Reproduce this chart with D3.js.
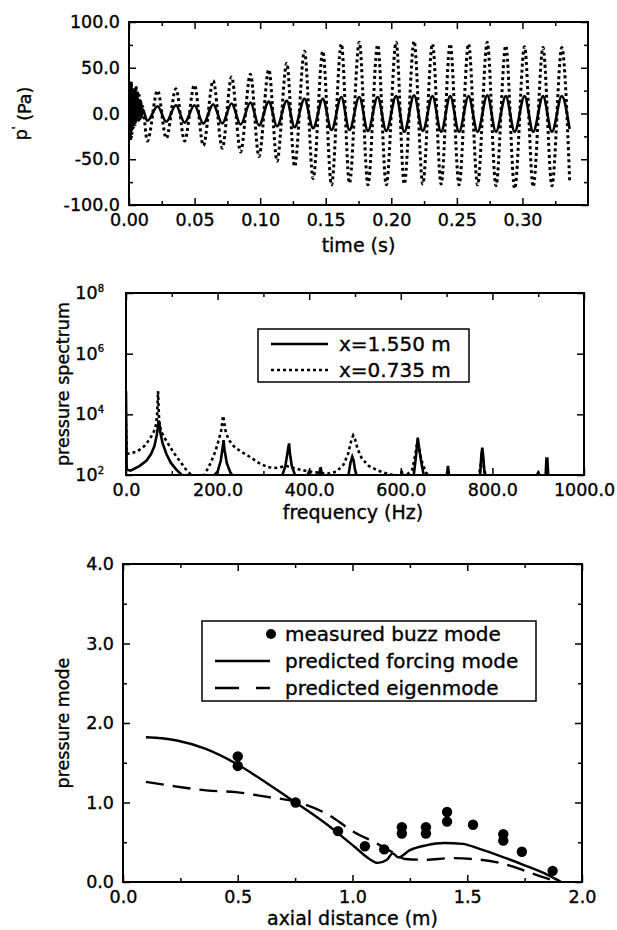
<!DOCTYPE html>
<html>
<head>
<meta charset="utf-8">
<script src="https://cdn.jsdelivr.net/npm/d3@7"></script>
<style>
  body { margin: 0; background: #fff; }
  svg { display: block; font-family: "DejaVu Sans", "Liberation Sans", Arial, sans-serif; }
  svg text { fill: #000; stroke: #000; stroke-width: 0.35px; }
</style>
</head>
<body>
<svg id="chart" width="617" height="930"></svg>
<script>
// ---- panel 1: pressure time traces (burst + oscillation extrema)
const timeBurst = [0, 0.0006, 0.0012, 0.0018, 0.0024, 0.003, 0.0036, 0.0042, 0.0048, 0.0054, 0.006, 0.0066, 0.0072, 0.0078, 0.0084, 0.009, 0.0096, 0.0102];
const dottedBurst = [0, 33, -30, 35, -22, 28, -15, 26, -12, 30, -8, 24, -10, 20, -6, 15, -4, 8];
const solidBurst = [0, 25, -26, 30, -18, 24, -12, 27, -10, 22, -6, 18, -8, 14, -4, 10, -3, 5];

const timeExt = [0.014, 0.0218, 0.0284, 0.0358, 0.0424, 0.0499, 0.0567, 0.0642, 0.0711, 0.0782,
  0.0851, 0.0926, 0.0991, 0.1066, 0.1129, 0.1203, 0.1263, 0.1338, 0.1404, 0.1478,
  0.1544, 0.1619, 0.1681, 0.1756, 0.1822, 0.1896, 0.1962, 0.2037, 0.2099, 0.2174,
  0.224, 0.2314, 0.238, 0.2449, 0.2517, 0.2589, 0.2658, 0.2732, 0.2798, 0.2873,
  0.2941, 0.3016, 0.3082, 0.3157, 0.3225, 0.33, 0.336];
const dottedExt = [-30, 25, -27, 27, -30, 31, -35, 36, -38, 40,
  -42, 43, -47, 48, -52, 55, -58, 68, -71, 68,
  -78, 76, -76, 78, -78, 75, -78, 78, -77, 79,
  -77, 76, -77, 76, -78, 76, -78, 78, -79, 74,
  -82, 73, -80, 72, -79, 72, -73];
const solidExt = [-8, 8, -9, 9, -10, 9, -11, 10, -11, 11,
  -12, 12, -13, 13, -14, 14, -15, 16, -16, 16,
  -18, 18, -18, 18, -19, 18, -19, 19, -20, 20,
  -19, 19, -20, 19, -20, 19, -20, 20, -20, 19,
  -20, 19, -20, 19, -20, 19, -17];

const timeTicks = [0, 0.05, 0.1, 0.15, 0.2, 0.25, 0.3];
const pTicks = [-100, -50, 0, 50, 100];

// ---- panel 2: pressure spectra
const specFreqSolid = [0, 1.5, 10, 30, 45, 55, 62, 67, 70, 71, 72, 73, 75, 80, 88, 98, 110, 125,
  190, 200, 207, 211, 213, 215, 220, 228, 235,
  340, 348, 353, 356, 358, 362, 370, 395, 400, 403, 420, 425, 428, 430,
  485, 490, 494, 497, 500, 505, 600, 602, 604, 628, 633, 637, 641, 645, 650, 655,
  700, 703, 706, 773, 776, 778, 780, 783, 785, 895, 900, 905, 916, 918, 920, 922, 1000];
const specSolid = [60000, 150, 140, 200, 300, 500, 900, 2000, 4000, 6300, 3500, 5000, 2500, 1100, 500, 250, 150, 90,
  90, 130, 300, 800, 1400, 700, 250, 120, 85,
  85, 200, 600, 1100, 500, 200, 90, 90, 130, 90, 90, 180, 100, 85,
  85, 250, 400, 300, 150, 85, 85, 140, 85, 90, 400, 1700, 600, 250, 100, 85,
  85, 200, 85, 90, 500, 800, 400, 100, 85, 85, 120, 85, 85, 350, 350, 85, 85];

const specFreqDotted = [0, 2, 10, 25, 40, 50, 58, 63, 66, 68, 70, 71, 72, 74, 78, 85, 95, 105, 118, 130, 142, 150,
  168, 175, 185, 195, 203, 208, 212, 214, 218, 225, 235, 250, 270, 290, 310, 330, 350, 360, 380, 400, 420, 440,
  460, 475, 485, 492, 496, 500, 506, 515, 530, 550, 570, 590, 610, 625, 632, 636, 640, 645, 655, 665,
  770, 776, 778, 781, 786, 1000];
const specDotted = [5000, 500, 520, 600, 900, 1400, 2200, 3200, 5000, 10000, 58000, 20000, 8000, 4000, 2500, 1600, 900, 520, 280, 160, 100, 80,
  80, 130, 250, 600, 1500, 3000, 9000, 6000, 2500, 1400, 900, 600, 400, 250, 180, 170, 200, 180, 150, 130, 120, 110,
  130, 220, 500, 1400, 2000, 1500, 700, 350, 200, 140, 110, 95, 90, 150, 500, 1200, 800, 300, 120, 85,
  85, 300, 500, 200, 85, 85];

const freqTicks = [0, 200, 400, 600, 800, 1000];
const specTicks = [1e2, 1e4, 1e6, 1e8];
const specLegend = ["x=1.550 m", "x=0.735 m"];

// ---- panel 3: pressure mode shapes
const measX = [0.5, 0.5, 0.752, 0.937, 1.054, 1.138, 1.215, 1.215, 1.32, 1.32, 1.412, 1.412, 1.525, 1.657, 1.657, 1.738, 1.872];
const measY = [1.58, 1.46, 1.0, 0.64, 0.45, 0.41, 0.69, 0.61, 0.69, 0.61, 0.88, 0.76, 0.72, 0.60, 0.52, 0.38, 0.14];
const forceX = [0.1, 0.235, 0.355, 0.492, 0.629, 0.752, 0.886, 1.006, 1.074, 1.11, 1.15, 1.175, 1.2, 1.25, 1.32, 1.4, 1.48, 1.55, 1.65, 1.75, 1.85, 1.91];
const forceY = [1.82, 1.78, 1.68, 1.49, 1.24, 1.0, 0.73, 0.45, 0.29, 0.24, 0.28, 0.36, 0.31, 0.40, 0.46, 0.49, 0.48, 0.42, 0.32, 0.21, 0.09, 0.0];
const eigenX = [0.1, 0.235, 0.372, 0.492, 0.629, 0.752, 0.886, 1.006, 1.109, 1.177, 1.229, 1.314, 1.434, 1.52, 1.657, 1.743, 1.83, 1.9];
const eigenY = [1.26, 1.20, 1.15, 1.13, 1.07, 1.01, 0.86, 0.63, 0.48, 0.37, 0.29, 0.28, 0.30, 0.29, 0.23, 0.15, 0.06, 0.0];
const axialTicks = [0, 0.5, 1.0, 1.5, 2.0];
const modeTicks = [0, 1, 2, 3, 4];
const modeLegend = ["measured buzz mode", "predicted forcing mode", "predicted eigenmode"];

const svg = d3.select("#chart");
const TICK_FONT = 17.5;
const TITLE_FONT = 19;
const YTITLE_FONT = 17.5;
const LEGEND_FONT = 20;
const fmt = n => v => v.toFixed(n);

function panel(id, left, top, w, h) {
  const g = svg.append("g").attr("transform", `translate(${left},${top})`);
  g.append("clipPath").attr("id", id).append("rect").attr("width", w).attr("height", h);
  return g;
}

function axes(g, w, h, x, y, o) {
  const style = s => {
    s.attr("font-size", TICK_FONT).attr("font-family", null);
    s.select(".domain").remove();
    s.selectAll(".tick line").attr("stroke-width", 1.5);
  };
  g.append("g").attr("transform", `translate(0,${h})`)
    .call(d3.axisBottom(x).tickValues(o.xMajor).tickSize(-7).tickPadding(9).tickFormat(o.xFmt)).call(style);
  g.append("g").attr("transform", `translate(0,${h})`)
    .call(d3.axisBottom(x).tickValues(o.xMinor).tickSize(-4).tickFormat("")).call(style);
  g.append("g").call(d3.axisTop(x).tickValues(o.xMajor).tickSize(-7).tickFormat("")).call(style);
  g.append("g").call(d3.axisTop(x).tickValues(o.xMinor).tickSize(-4).tickFormat("")).call(style);
  const yl = g.append("g")
    .call(d3.axisLeft(y).tickValues(o.yMajor).tickSize(-7).tickPadding(o.yPad || 9).tickFormat(o.yFmt)).call(style);
  if (o.yMinor) {
    g.append("g").call(d3.axisLeft(y).tickValues(o.yMinor).tickSize(-4).tickFormat("")).call(style);
    g.append("g").attr("transform", `translate(${w},0)`)
      .call(d3.axisRight(y).tickValues(o.yMinor).tickSize(-4).tickFormat("")).call(style);
  }
  g.append("g").attr("transform", `translate(${w},0)`)
    .call(d3.axisRight(y).tickValues(o.yMajor).tickSize(-7).tickFormat("")).call(style);
  g.append("rect").attr("width", w).attr("height", h)
    .attr("fill", "none").attr("stroke", "#000").attr("stroke-width", 2);
  return yl;
}

// ================= panel 1
{
  const w = 459, h = 183;
  const g = panel("clip1", 129, 22, w, h);
  const x = d3.scaleLinear().domain([0, 0.35]).range([0, w]);
  const y = d3.scaleLinear().domain([-100, 100]).range([h, 0]);
  axes(g, w, h, x, y, {
    xMajor: timeTicks, xMinor: d3.range(0.025, 0.35, 0.05), xFmt: fmt(2),
    yMajor: pTicks, yMinor: [-75, -25, 25, 75], yFmt: fmt(1)
  });
  const t = timeBurst.concat(timeExt);
  const dotted = dottedBurst.concat(dottedExt);
  const solid = solidBurst.concat(solidExt);
  const line = vals => d3.line().x((d, i) => x(t[i])).y(d => y(d)).curve(d3.curveMonotoneX)(vals);
  const data = g.append("g").attr("clip-path", "url(#clip1)");
  data.append("path").attr("d", line(dotted)).attr("fill", "none").attr("stroke", "#000")
    .attr("stroke-width", 3).attr("stroke-dasharray", "3,3");
  data.append("path").attr("d", line(solid)).attr("fill", "none").attr("stroke", "#000")
    .attr("stroke-width", 2.6);

  g.append("text").attr("x", w / 2).attr("y", h + 47).attr("text-anchor", "middle")
    .attr("font-size", TITLE_FONT).text("time (s)");
  const yt = g.append("text").attr("transform", `translate(${21 - 129},${h / 2}) rotate(-90)`)
    .attr("text-anchor", "middle").attr("dominant-baseline", "central").attr("font-size", YTITLE_FONT);
  yt.append("tspan").text("p");
  yt.append("tspan").attr("dy", "-0.55em").attr("font-size", 10).text("'");
  yt.append("tspan").attr("dy", "0.55em").text(" (Pa)");
}

// ================= panel 2
{
  const w = 458, h = 182;
  const g = panel("clip2", 126, 293, w, h);
  const x = d3.scaleLinear().domain([0, 1000]).range([0, w]);
  const y = d3.scaleLog().domain([1e2, 1e8]).range([h, 0]);
  const yl = axes(g, w, h, x, y, {
    xMajor: freqTicks, xMinor: [100, 300, 500, 700, 900], xFmt: fmt(1),
    yMajor: specTicks, yFmt: () => "10", yPad: 22
  });
  yl.selectAll(".tick text").append("tspan").attr("dy", "-0.75em").attr("font-size", 10)
    .text(d => Math.round(Math.log10(d)));

  const data = g.append("g").attr("clip-path", "url(#clip2)");
  const line = (fx, fy) => d3.line().x((d, i) => x(fx[i])).y(d => y(d))(fy);
  data.append("path").attr("d", line(specFreqDotted, specDotted)).attr("fill", "none")
    .attr("stroke", "#000").attr("stroke-width", 2.6).attr("stroke-dasharray", "3,3");
  data.append("path").attr("d", line(specFreqSolid, specSolid)).attr("fill", "none")
    .attr("stroke", "#000").attr("stroke-width", 2.6);

  // legend
  const lg = g.append("g").attr("transform", `translate(${258 - 126},${329 - 293})`);
  lg.append("rect").attr("width", 211).attr("height", 53).attr("fill", "#fff")
    .attr("stroke", "#000").attr("stroke-width", 1.5);
  specLegend.forEach((name, i) => {
    const cy = 15 + i * 26;
    lg.append("line").attr("x1", 13).attr("x2", 70).attr("y1", cy).attr("y2", cy)
      .attr("stroke", "#000").attr("stroke-width", 2.6)
      .attr("stroke-dasharray", i ? "3,3" : null);
    lg.append("text").attr("x", 81).attr("y", cy).attr("dominant-baseline", "central")
      .attr("font-size", LEGEND_FONT).text(name);
  });

  g.append("text").attr("x", w / 2 - 2).attr("y", h + 44).attr("text-anchor", "middle")
    .attr("font-size", TITLE_FONT).text("frequency (Hz)");
  g.append("text").attr("transform", `translate(${63 - 126},${h / 2}) rotate(-90)`)
    .attr("text-anchor", "middle").attr("dominant-baseline", "central")
    .attr("font-size", YTITLE_FONT).text("pressure spectrum");
}

// ================= panel 3
{
  const w = 459, h = 318;
  const g = panel("clip3", 123, 564, w, h);
  const x = d3.scaleLinear().domain([0, 2]).range([0, w]);
  const y = d3.scaleLinear().domain([0, 4]).range([h, 0]);
  axes(g, w, h, x, y, {
    xMajor: axialTicks, xMinor: [0.25, 0.75, 1.25, 1.75], xFmt: fmt(1),
    yMajor: modeTicks, yMinor: [0.5, 1.5, 2.5, 3.5], yFmt: fmt(1)
  });
  const data = g.append("g").attr("clip-path", "url(#clip3)");
  data.append("path")
    .attr("d", d3.line().x((d, i) => x(eigenX[i])).y(d => y(d)).curve(d3.curveMonotoneX)(eigenY))
    .attr("fill", "none").attr("stroke", "#000").attr("stroke-width", 2.4).attr("stroke-dasharray", "18,9");
  data.append("path")
    .attr("d", d3.line().x((d, i) => x(forceX[i])).y(d => y(d)).curve(d3.curveMonotoneX)(forceY))
    .attr("fill", "none").attr("stroke", "#000").attr("stroke-width", 2.4);
  data.selectAll("circle").data(measY).join("circle")
    .attr("cx", (d, i) => x(measX[i])).attr("cy", d => y(d)).attr("r", 5.2).attr("fill", "#000");

  // legend
  const lg = g.append("g").attr("transform", `translate(${202 - 123},${621 - 564})`);
  lg.append("rect").attr("width", 334).attr("height", 80).attr("fill", "#fff")
    .attr("stroke", "#000").attr("stroke-width", 1.5);
  modeLegend.forEach((name, i) => {
    const cy = 13 + i * 27;
    if (i === 0) {
      lg.append("circle").attr("cx", 69).attr("cy", cy).attr("r", 5).attr("fill", "#000");
    } else {
      lg.append("line").attr("x1", 13).attr("x2", 68).attr("y1", cy).attr("y2", cy)
        .attr("stroke", "#000").attr("stroke-width", 2.6)
        .attr("stroke-dasharray", i === 2 ? "24,17,14,100" : null);
    }
    lg.append("text").attr("x", 83).attr("y", cy).attr("dominant-baseline", "central")
      .attr("font-size", LEGEND_FONT).text(name);
  });

  g.append("text").attr("x", w / 2).attr("y", h + 43).attr("text-anchor", "middle")
    .attr("font-size", TITLE_FONT).text("axial distance (m)");
  g.append("text").attr("transform", `translate(${63 - 123},${h / 2}) rotate(-90)`)
    .attr("text-anchor", "middle").attr("dominant-baseline", "central")
    .attr("font-size", YTITLE_FONT).text("pressure mode");
}
</script>
</body>
</html>
